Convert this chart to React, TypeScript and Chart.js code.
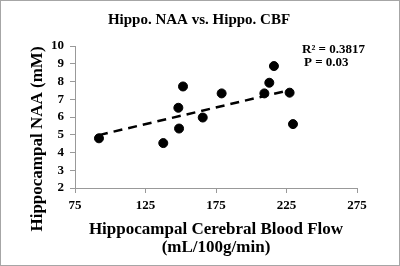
import React, { useEffect, useRef } from "react";
import { Chart, registerables } from "chart.js";

Chart.register(...registerables);

const cbf = [92, 137.6, 148.8, 148.3, 151.6, 165.6, 179, 209.3, 212.8, 216.1, 227.2, 229.6];
const naa = [4.8, 4.53, 5.35, 6.52, 7.72, 5.97, 7.33, 7.33, 7.93, 8.87, 7.37, 5.6];
const trendX = [92, 229];
const trendY = [4.98, 7.55];
const titleText = "Hippo. NAA vs. Hippo. CBF";
const yTitle = "Hippocampal NAA (mM)";
const xTitle = ["Hippocampal Cerebral Blood Flow", "(mL/100g/min)"];
const stats = ["R² = 0.3817", "P = 0.03"];

const FONT = "'Liberation Serif', 'Times New Roman', serif";

const textPlugin = {
  id: "texts",
  afterDraw(chart: any) {
    const ctx = chart.ctx;
    ctx.save();
    ctx.fillStyle = "#000";
    ctx.textBaseline = "middle";
    ctx.textAlign = "center";
    ctx.font = `bold 15px ${FONT}`;
    ctx.fillText(titleText, 198, 19);
    ctx.font = `bold 17px ${FONT}`;
    ctx.fillText(xTitle[0], 215, 229);
    ctx.fillText(xTitle[1], 215, 247);
    ctx.save();
    ctx.translate(37, 138);
    ctx.rotate(-Math.PI / 2);
    ctx.fillText(yTitle, 0, 0);
    ctx.restore();
    ctx.font = `bold 13px ${FONT}`;
    ctx.textAlign = "left";
    ctx.fillText(stats[0], 301, 49);
    ctx.fillText(stats[1], 303, 62);
    ctx.restore();
  },
};

export default function App() {
  const ref = useRef<HTMLCanvasElement>(null);
  useEffect(() => {
    document.body.style.margin = "0";
    const chart = new Chart(ref.current!, {
      type: "scatter",
      data: {
        datasets: [
          {
            data: cbf.map((x, i) => ({ x, y: naa[i] })),
            backgroundColor: "#000",
            borderColor: "#000",
            pointRadius: 4.5,
            pointHoverRadius: 4.5,
          },
          {
            data: trendX.map((x, i) => ({ x, y: trendY[i] })),
            showLine: true,
            borderColor: "#000",
            borderWidth: 2.5,
            borderDash: [9, 6],
            pointRadius: 0,
            fill: false,
          } as any,
        ],
      },
      options: {
        responsive: false,
        animation: false,
        layout: { padding: { top: 45, right: 42, left: 0, bottom: 0 } },
        plugins: { legend: { display: false }, tooltip: { enabled: false }, title: { display: false } },
        scales: {
          x: {
            type: "linear",
            min: 75,
            max: 275,
            afterFit: (s: any) => { s.height = 77; },
            ticks: { stepSize: 50, autoSkip: false, padding: 5, color: "#000", font: { family: FONT, size: 13, weight: "bold" } },
            grid: { drawOnChartArea: false, drawTicks: true, tickLength: 5, color: "#999" },
            border: { display: true, color: "#999" },
          },
          y: {
            min: 2,
            max: 10,
            afterFit: (s: any) => { s.width = 74; },
            ticks: { stepSize: 1, autoSkip: false, padding: 6, color: "#000", font: { family: FONT, size: 13, weight: "bold" } },
            grid: { drawOnChartArea: false, drawTicks: true, tickLength: 5, color: "#999" },
            border: { display: true, color: "#999" },
          },
        },
      },
      plugins: [textPlugin],
    });
    return () => chart.destroy();
  }, []);
  return (
    <div style={{ position: "absolute", left: 0, top: 0, width: 400, height: 266, border: "1px solid #a6a6a6", boxSizing: "border-box", background: "#fff" }}>
      <canvas ref={ref} width={398} height={264} style={{ display: "block" }} />
    </div>
  );
}
